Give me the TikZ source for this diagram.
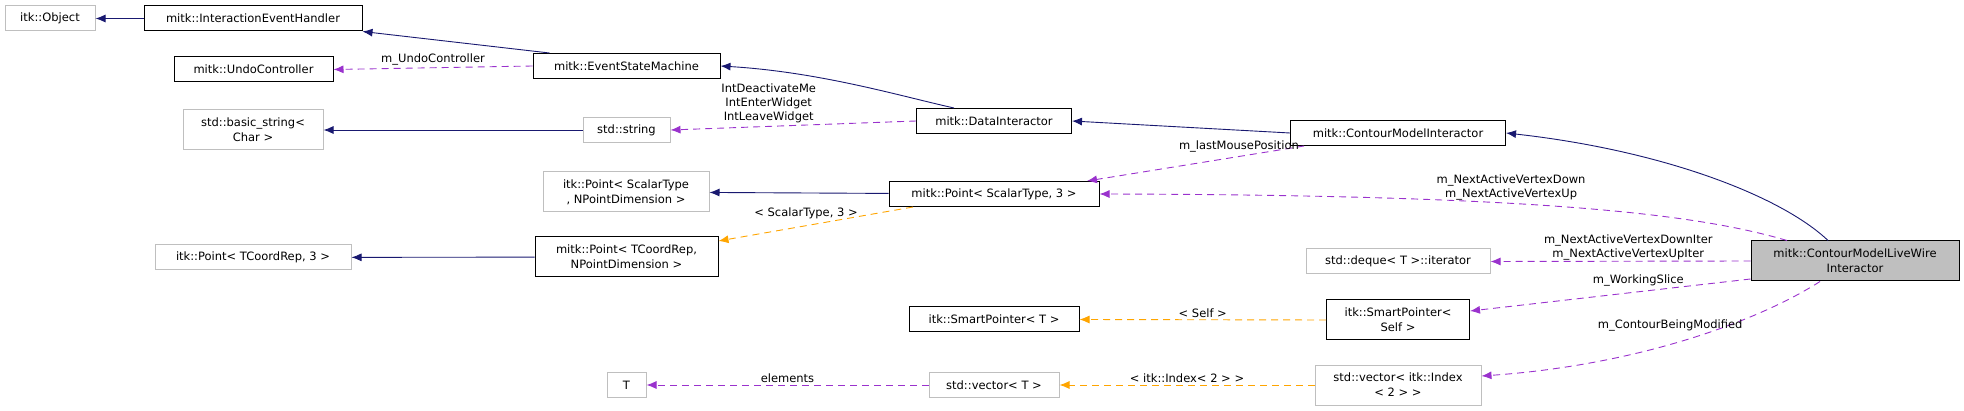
\documentclass[tikz,border=0pt]{standalone}
\usepackage{fontspec}
\setmainfont{DejaVu Sans}
\usetikzlibrary{arrows.meta}
\definecolor{nav}{HTML}{191970}
\definecolor{pur}{HTML}{9A32CD}
\definecolor{org}{HTML}{FFA500}
\definecolor{gb}{HTML}{BFBFBF}
\begin{document}
\begin{tikzpicture}[x=1pt,y=-1pt,
  every node/.style={font=\fontsize{11.5}{15}\selectfont,align=center,inner sep=0pt},
  box/.style={draw=black,line width=1pt,minimum height=25pt},
  gbox/.style={draw=gb,line width=1pt,minimum height=25pt},
  tip/.style={-{Latex[length=10pt,width=8pt]}},
  inh/.style={tip,draw=nav,line width=0.9pt},
  use/.style={tip,draw=pur,dashed,dash pattern=on 7pt off 5pt,line width=0.9pt},
  tpl/.style={tip,draw=org,dashed,dash pattern=on 7pt off 5pt,line width=0.9pt},
  lab/.style={font=\fontsize{11.5}{14}\selectfont}]
\useasboundingbox (0,0) rectangle (1964,411);
\node[gbox,minimum width=90pt] (obj) at (50,18.5) {itk::Object};
\node[box,minimum width=218pt] (ieh) at (253,18.5) {mitk::InteractionEventHandler};
\node[box,minimum width=159pt] (undo) at (253.5,69.5) {mitk::UndoController};
\node[box,minimum width=187pt] (esm) at (626.5,66) {mitk::EventStateMachine};
\node[gbox,minimum width=140pt,minimum height=40pt] (bstr) at (253,130) {std::basic\_string\textless\\Char \textgreater};
\node[gbox,minimum width=87pt] (str) at (626.5,130) {std::string};
\node[gbox,minimum width=166pt,minimum height=40pt] (itkps) at (626,192) {itk::Point\textless{} ScalarType\\, NPointDimension \textgreater};
\node[box,minimum width=183pt,minimum height=40pt] (mptc) at (626.5,257) {mitk::Point\textless{} TCoordRep,\\NPointDimension \textgreater};
\node[gbox,minimum width=196pt] (itkptc) at (253,257.5) {itk::Point\textless{} TCoordRep, 3 \textgreater};
\node[gbox,minimum width=39pt] (T) at (626.5,385) {T};
\node[box,minimum width=155pt] (di) at (994,121) {mitk::DataInteractor};
\node[box,minimum width=210pt] (mps) at (994,194) {mitk::Point\textless{} ScalarType, 3 \textgreater};
\node[box,minimum width=170pt] (spt) at (994,319.5) {itk::SmartPointer\textless{} T \textgreater};
\node[gbox,minimum width=130pt] (vt) at (994,385) {std::vector\textless{} T \textgreater};
\node[box,minimum width=215pt] (cmi) at (1398,133) {mitk::ContourModelInteractor};
\node[gbox,minimum width=184pt] (deq) at (1398,261.5) {std::deque\textless{} T \textgreater::iterator};
\node[box,minimum width=143pt,minimum height=40pt] (sps) at (1398,320) {itk::SmartPointer\textless\\Self \textgreater};
\node[gbox,minimum width=166pt,minimum height=40pt] (vidx) at (1398,385) {std::vector\textless{} itk::Index\\\textless{} 2 \textgreater{} \textgreater};
\node[box,fill=gb,minimum width=208pt,minimum height=40pt] (lw) at (1855,261) {mitk::ContourModelLiveWire\\Interactor};
% edges
\draw[inh] (ieh) -- (obj);
\draw[inh] ([xshift=-77pt]esm.north) -- (ieh.south east);
\draw[use] (esm.west) -- node[lab,above=2pt]{m\_UndoController} (undo.east);
\draw[inh] ([xshift=-40pt]di.north) .. controls (900,96) and (820,72) .. (esm.east);
\draw[use] (di.west) -- node[lab,above=3pt,pos=0.6]{IntDeactivateMe\\IntEnterWidget\\IntLeaveWidget} (str.east);
\draw[inh] (str) -- (bstr);
\draw[inh] (cmi.west) -- (di.east);
\draw[use] ([xshift=-94pt]cmi.south) -- node[lab,above=4pt,pos=0.3]{m\_lastMousePosition} ([xshift=93pt]mps.north);
\draw[inh] (mps) -- (itkps);
\draw[tpl] ([xshift=-81pt]mps.south) -- node[lab,above=6pt,pos=0.55]{\textless{} ScalarType, 3 \textgreater} ([yshift=16pt]mptc.east);
\draw[inh] (mptc) -- (itkptc);
\draw[inh] ([xshift=-27pt]lw.north) .. controls (1780,195) and (1660,150) .. (cmi.east);
\draw[use] ([xshift=-68pt]lw.north) .. controls (1700,215) and (1550,195) .. node[lab,above=3pt,pos=0.6]{m\_NextActiveVertexDown\\m\_NextActiveVertexUp} (mps.east);
\draw[use] (lw.west) -- node[lab,above=1pt,pos=0.47]{m\_NextActiveVertexDownIter\\m\_NextActiveVertexUpIter} (deq.east);
\draw[use] ([yshift=-18pt]lw.west) -- node[lab,above=5pt,pos=0.4]{m\_WorkingSlice} ([yshift=9pt]sps.east);
\draw[use] ([xshift=-35pt]lw.south) .. controls (1760,320) and (1640,365) .. node[lab,above=13pt,pos=0.55]{m\_ContourBeingModified} ([yshift=9pt]vidx.east);
\draw[tpl] (sps.west) -- node[lab,above=2pt]{\textless{} Self \textgreater} (spt.east);
\draw[tpl] (vidx.west) -- node[lab,above=2pt]{\textless{} itk::Index\textless{} 2 \textgreater{} \textgreater} (vt.east);
\draw[use] (vt.west) -- node[lab,above=2pt]{elements} (T.east);
\end{tikzpicture}
\end{document}
